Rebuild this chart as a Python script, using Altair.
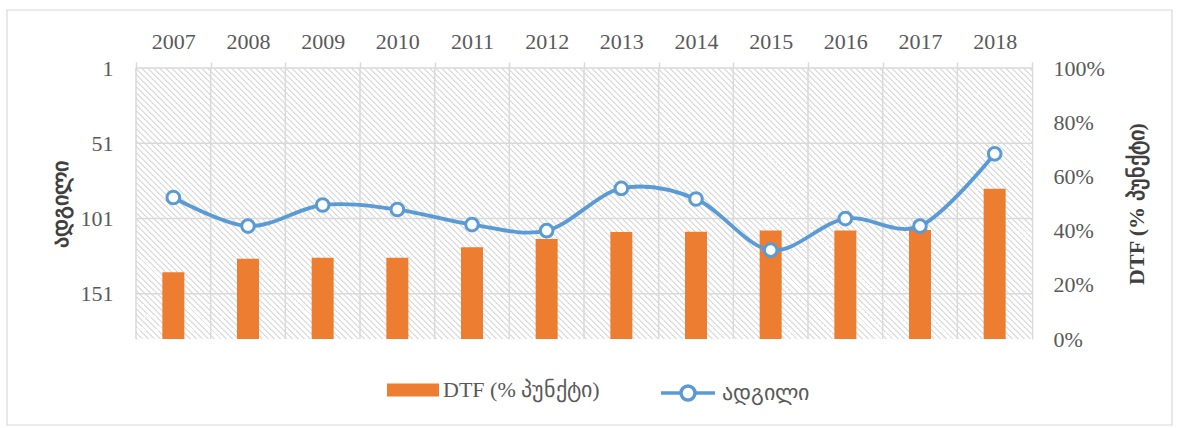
import altair as alt
import pandas as pd

# ---- data ----
years = ["2007", "2008", "2009", "2010", "2011", "2012",
         "2013", "2014", "2015", "2016", "2017", "2018"]
dtf = [24.6, 29.6, 30.0, 30.0, 33.9, 36.9, 39.5, 39.6, 40.0, 40.0, 40.2, 55.4]
rank = [87, 106, 92, 95, 105, 109, 81, 88, 122, 101, 106, 58]
rank_ticks = [1, 51, 101, 151]
pct_ticks = [0, 20, 40, 60, 80, 100]
bar_label = "DTF (% პუნქტი)"
line_label = "ადგილი"

df = pd.DataFrame({"year": years, "dtf": dtf, "rank": rank})
df["bar_series"] = bar_label
df["line_series"] = line_label
grid_df = pd.DataFrame({"rank": rank_ticks})
one = pd.DataFrame({"k": [0]})

# ---- style ----
W, H = 896, 271
FONT = "Liberation Serif"
GRID = "#d9d9d9"
HATCH = "#e0e0e0"
TXT = "#595959"
TITLE = "#404040"
ORANGE = "#ED7D31"
BLUE = "#5B9BD5"

# diagonal hatch as a striped linear gradient (style only)
period, band = 6.0, 1.8
L = W + H
stops = []
n = 0
while n * period < L:
    a = n * period / L
    b = min((n * period + band) / L, 1.0)
    stops += [
        {"offset": a, "color": "#ffffff"},
        {"offset": a, "color": HATCH},
        {"offset": b, "color": HATCH},
        {"offset": b, "color": "#ffffff"},
    ]
    n += 1
r = H / W
k = (1 + r) / (1 + r * r)
hatch_fill = alt.LinearGradient(gradient="linear", stops=stops,
                                x1=0, y1=1, x2=k, y2=1 - k * r)

xscale = alt.Scale(type="band", paddingInner=0, paddingOuter=0)
x_axis = alt.Axis(orient="top", title=None, labelAngle=0, tickBand="extent",
                  ticks=True, tickSize=6, tickColor=GRID, tickWidth=1.5,
                  grid=False, domain=False, labelFont=FONT, labelFontSize=22,
                  labelColor=TXT, labelPadding=9)
rank_scale = alt.Scale(domain=[1, 181], reverse=True, nice=False, zero=False)
rank_axis = alt.Axis(orient="left", values=rank_ticks, grid=False, ticks=False,
                     domain=True, domainColor=GRID, domainWidth=1.5,
                     labelFont=FONT, labelFontSize=22, labelColor=TXT,
                     labelPadding=23, title=line_label, titleFont=FONT,
                     titleFontSize=22, titleFontWeight="bold", titleColor=TITLE,
                     titlePadding=8)
dtf_axis = alt.Axis(orient="right", values=pct_ticks,
                    labelExpr="datum.value + '%'", grid=False, ticks=False,
                    domain=True, domainColor=GRID, domainWidth=1.5,
                    labelFont=FONT, labelFontSize=22, labelColor=TXT,
                    labelPadding=21, title=bar_label, titleFont=FONT,
                    titleFontSize=22, titleFontWeight="bold", titleColor=TITLE,
                    titleAngle=270, titleBaseline="top", titlePadding=22)

hatch = alt.Chart(one).mark_rect(fill=hatch_fill, strokeWidth=0).encode(
    x=alt.value(0), x2=alt.value("width"), y=alt.value(0), y2=alt.value("height"))

vgrid = alt.Chart(df).mark_rule(color=GRID, strokeWidth=1.5).encode(
    x=alt.X("year:O", bandPosition=0, scale=xscale, axis=x_axis))

hgrid = alt.Chart(grid_df).mark_rule(color=GRID, strokeWidth=1.5).encode(
    y=alt.Y("rank:Q", scale=rank_scale, axis=rank_axis))

bars = alt.Chart(df).mark_bar(size=22).encode(
    x=alt.X("year:O", scale=xscale, axis=x_axis),
    y=alt.Y("dtf:Q", scale=alt.Scale(domain=[0, 100], nice=False), axis=dtf_axis),
    fill=alt.Fill("bar_series:N",
                  scale=alt.Scale(domain=[bar_label], range=[ORANGE]),
                  legend=alt.Legend(title=None, orient="none", legendX=251,
                                    legendY=296,
                                    symbolType="M-1,-0.25H1V0.25H-1Z",
                                    symbolSize=2704, symbolStrokeWidth=0,
                                    labelFont=FONT, labelFontSize=22,
                                    labelColor=TXT, labelOffset=4, padding=0)),
)

line_symbol = ("M-1,0H-0.26M0.26,0H1M-0.26,0A0.26,0.26,0,1,1,0.26,0"
               "A0.26,0.26,0,1,1,-0.26,0")
line = alt.Chart(df).mark_line(interpolate="cardinal", strokeWidth=3.8).encode(
    x=alt.X("year:O", scale=xscale, axis=x_axis),
    y=alt.Y("rank:Q", scale=rank_scale, axis=None),
    stroke=alt.Stroke("line_series:N",
                      scale=alt.Scale(domain=[line_label], range=[BLUE]),
                      legend=alt.Legend(title=None, orient="none", legendX=523,
                                        legendY=296, symbolType=line_symbol,
                                        symbolSize=2916, symbolStrokeWidth=3.5,
                                        symbolFillColor="white",
                                        labelFont=FONT, labelFontSize=22,
                                        labelColor=TXT, labelOffset=5,
                                        padding=0)),
)

points = alt.Chart(df).mark_point(filled=True, fill="white", stroke=BLUE,
                                  strokeWidth=3, size=160, opacity=1).encode(
    x=alt.X("year:O", scale=xscale, axis=x_axis),
    y=alt.Y("rank:Q", scale=rank_scale, axis=None),
)

frame = alt.Chart(one).mark_rect(fillOpacity=0, stroke=GRID, strokeWidth=1.2).encode(
    x=alt.value(-129), x2=alt.value(1036), y=alt.value(-58), y2=alt.value(357))

chart = (
    alt.layer(hatch, vgrid, hgrid, bars, line, points, frame)
    .resolve_scale(y="independent")
    .properties(width=W, height=H,
                autosize=alt.AutoSizeParams(type="none"),
                padding={"left": 136, "top": 68, "right": 148, "bottom": 89},
                background="white")
    .configure_view(stroke=None)
)

chart.save("out.html", embed_options={"renderer": "svg", "actions": False})
